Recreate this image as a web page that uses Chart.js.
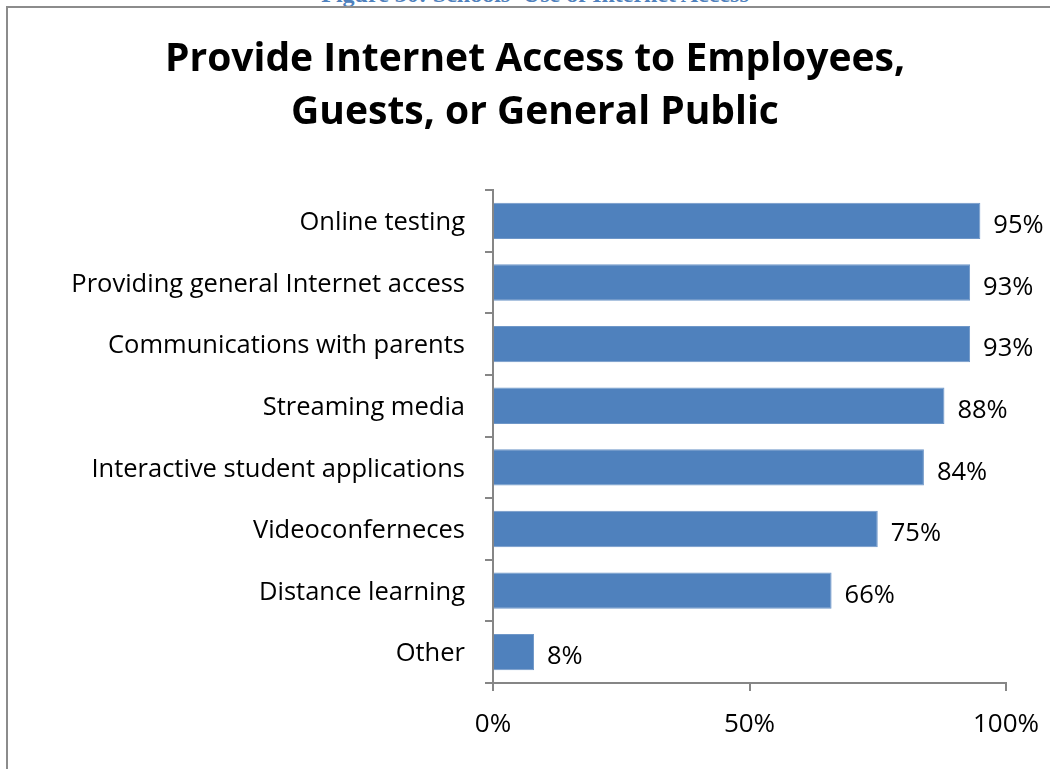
<!DOCTYPE html>
<html lang="en">
<head>
  <meta charset="UTF-8" />
  <title>Provide Internet Access to Employees, Guests, or General Public</title>
  <script src="https://cdn.jsdelivr.net/npm/chart.js"></script>
  <style>
    body {
      margin: 0;
      width: 1050px;
      height: 769px;
      overflow: hidden;
      background: white;
      position: relative;
    }
    .caption {
      position: absolute;
      top: -18px;
      left: 0;
      width: 1070px;
      text-align: center;
      font-family: "Liberation Serif", serif;
      font-weight: bold;
      font-size: 24px;
      line-height: 24px;
      color: #4f81bd;
    }
    .frame {
      position: absolute;
      left: 6px;
      top: 6px;
      width: 1100px;
      height: 900px;
      border: 2px solid #8c8c8c;
    }
    #chartWrap {
      position: absolute;
      left: 0;
      top: 0;
      width: 1070px;
      height: 769px;
    }
  </style>
</head>
<body>
  <div class="caption">Figure 30: Schools' Use of Internet Access</div>
  <div class="frame"></div>
  <div id="chartWrap"><canvas id="accessChart"></canvas></div>

  <script>
    const categories = [
      "Online testing",
      "Providing general Internet access",
      "Communications with parents",
      "Streaming media",
      "Interactive student applications",
      "Videoconferneces",
      "Distance learning",
      "Other"
    ];
    const percentValues = [95, 93, 93, 88, 84, 75, 66, 8];
    const xTicks = [0, 50, 100];

    const FONT = "Open Sans";
    const axisGray = "#868686";

    // draws the "95%" style labels at the end of each bar
    const barLabels = {
      id: "barLabels",
      afterDatasetsDraw(chart) {
        const ctx = chart.ctx;
        const meta = chart.getDatasetMeta(0);
        ctx.save();
        ctx.font = "25.5px " + FONT;
        ctx.fillStyle = "#000";
        ctx.textAlign = "left";
        ctx.textBaseline = "middle";
        meta.data.forEach((bar, i) => {
          ctx.fillText(percentValues[i] + "%", bar.x + 13, bar.y + 5);
        });
        ctx.restore();
      }
    };

    const ctx = document.getElementById("accessChart").getContext("2d");
    new Chart(ctx, {
      type: "bar",
      data: {
        labels: categories,
        datasets: [{
          data: percentValues,
          backgroundColor: "#4f81bd",
          borderColor: "#6f97c8",
          borderWidth: 1,
          categoryPercentage: 1,
          barPercentage: 0.59
        }]
      },
      options: {
        indexAxis: "y",
        responsive: true,
        maintainAspectRatio: false,
        animation: false,
        layout: { padding: { left: 64, right: 64, top: 0, bottom: 0 } },
        plugins: {
          legend: { display: false },
          tooltip: { enabled: false },
          title: {
            display: true,
            text: ["Provide Internet Access to Employees,", "Guests, or General Public"],
            color: "#000",
            font: { family: FONT, size: 39, weight: "bold", lineHeight: 1.36 },
            padding: { top: 33, bottom: 51 }
          }
        },
        scales: {
          x: {
            min: 0,
            max: 100,
            afterBuildTicks: s => { s.ticks = xTicks.map(v => ({ value: v })); },
            afterFit: s => { s.height = 86; },
            ticks: {
              callback: v => v + "%",
              color: "#000",
              font: { family: FONT, size: 26 },
              padding: 18,
              maxRotation: 0
            },
            grid: {
              drawOnChartArea: false,
              drawTicks: true,
              tickLength: 8,
              color: axisGray,
              lineWidth: 2
            },
            border: { color: axisGray, width: 2 }
          },
          y: {
            afterFit: s => { s.width = 429; },
            ticks: {
              color: "#000",
              font: { family: FONT, size: 25.5 },
              padding: 20,
              labelOffset: 2
            },
            grid: {
              offset: true,
              drawOnChartArea: false,
              drawTicks: true,
              tickLength: 8,
              color: axisGray,
              lineWidth: 2
            },
            border: { color: axisGray, width: 2 }
          }
        }
      },
      plugins: [barLabels]
    });
  </script>
</body>
</html>
